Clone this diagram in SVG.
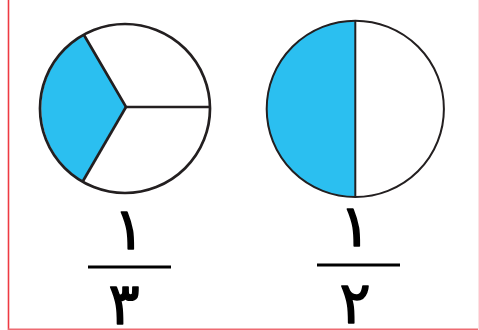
<svg xmlns="http://www.w3.org/2000/svg" width="479" height="330" viewBox="0 0 479 330">
  <style>
    .outline { fill: none; stroke: #231f20; }
    .blue { fill: #2bbff0; }
    .num { font-family: "DejaVu Sans", sans-serif; font-weight: normal; font-size: 58px; fill: #000; stroke: #000; stroke-width: 1.6; stroke-linejoin: round; text-anchor: middle; }
    .bar { stroke: #000; stroke-width: 3; }
  </style>
  <rect x="0" y="0" width="479" height="330" fill="#fff"/>
  <line x1="8.5" y1="0" x2="8.5" y2="330" stroke="#ee3a43" stroke-width="1.6"/>
  <line x1="8" y1="329.3" x2="479" y2="329.3" stroke="#ee6b72" stroke-width="1.4"/>
  <line x1="478.5" y1="0" x2="478.5" y2="330" stroke="#fbe3e4" stroke-width="1"/>

  <g id="third">
    <path class="blue" d="M126,107 L84,35 A85,84.5 0 0 0 83,181 Z"/>
    <ellipse class="outline" cx="125" cy="108.5" rx="85" ry="84.5" stroke-width="2.7"/>
    <polyline class="outline" points="84,35 126,107 210,107" stroke-width="2.7" stroke-linejoin="miter"/>
    <line class="outline" x1="126" y1="107" x2="83" y2="181" stroke-width="2.7"/>
  </g>

  <g id="half">
    <path class="blue" d="M355.3,20.7 A88.6,88.2 0 0 0 355.3,197.1 Z"/>
    <ellipse class="outline" cx="355.3" cy="108.9" rx="88.6" ry="88.2" stroke-width="2"/>
    <line class="outline" x1="355.3" y1="20.7" x2="355.3" y2="197" stroke-width="2"/>
  </g>

  <g id="frac-third">
    <text class="num" x="129" y="249">١</text>
    <line class="bar" x1="88" y1="267" x2="171" y2="267"/>
    <text class="num" x="124" y="324">٣</text>
  </g>

  <g id="frac-half">
    <text class="num" x="355" y="246">١</text>
    <line class="bar" x1="317" y1="265" x2="400" y2="265"/>
    <text class="num" x="355" y="323">٢</text>
  </g>
</svg>
